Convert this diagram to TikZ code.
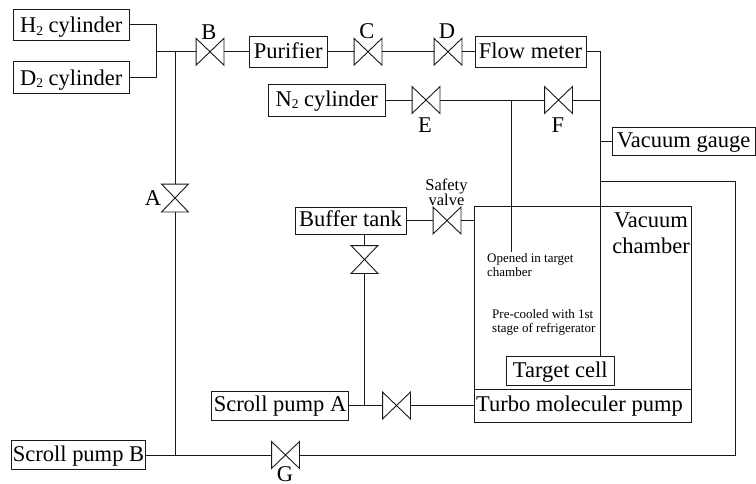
\documentclass[tikz,border=0pt]{standalone}
\usepackage{fontspec}
\setmainfont{Liberation Serif}
\newcommand{\lowtwo}{\raisebox{-2.5pt}{\fontsize{13.5}{13.5}\selectfont 2}}
\tikzset{
  wire/.style={line width=1pt,draw=black!90},
  box/.style={draw=black!90,line width=1pt,inner sep=0pt,text height=17pt,text depth=4.4pt,font=\fontsize{22.5}{24}\selectfont},
  gasbox/.style={box,text height=20pt,text depth=4pt},
  vnode/.style={inner sep=0pt,minimum width=27.5pt,minimum height=26.5pt},
  vshape/.style={line width=0.9pt,draw=black!90,line join=miter},
  lab/.style={inner sep=0pt,font=\fontsize{22.5}{24}\selectfont},
  mid/.style={inner sep=0pt,align=center,font=\fontsize{16.5}{16}\selectfont},
  small/.style={inner sep=0pt,align=left,anchor=west,font=\fontsize{13}{14}\selectfont},
}
\begin{document}
\begin{tikzpicture}[x=1pt,y=-1pt]
\useasboundingbox (0,0) rectangle (756,483);
% boxes
\node[gasbox,minimum width=116.5pt,minimum height=31.5pt] (H) at (71.25,24.75) {H\lowtwo{} cylinder};
\node[gasbox,minimum width=116.5pt,minimum height=31.5pt] (Dc) at (71.25,77.25) {D\lowtwo{} cylinder};
\node[box,minimum width=78.5pt,minimum height=30.5pt] (Pu) at (288.25,51.75) {Purifier};
\node[box,minimum width=111pt,minimum height=30.5pt] (FM) at (530.5,51.75) {Flow meter};
\node[box,minimum width=116.5pt,minimum height=32pt] (N) at (326.75,100) {N\lowtwo{} cylinder};
\node[box,minimum width=143.5pt,minimum height=27.5pt] (VG) at (683.75,141.25) {Vacuum gauge};
\node[box,minimum width=111pt,minimum height=27pt] (BT) at (350.5,220.5) {Buffer tank};
\node[box,minimum width=137pt,minimum height=29pt] (SA) at (280,405.5) {Scroll pump A};
\node[box,minimum width=134pt,minimum height=29pt] (SB) at (78.5,455) {Scroll pump B};
\node[box,minimum width=217pt,minimum height=183pt] (VC) at (582.5,297.5) {};
\node[box,minimum width=217pt,minimum height=33pt] (TP) at (582.5,405.5) {Turbo moleculer pump\kern6pt\mbox{}};
\node[box,minimum width=108.5pt,minimum height=28.5pt] (TC) at (560.25,370.75) {Target cell};
% valves
\foreach \n/\x/\y in {VB/210/51.75,VC1/368/51.75,VD/448/51.75,VE/426/100,VF/558.5/100,VS/447/220.5,VH/396.5/405.5,VG1/285.5/455}{
  \node[vnode] (\n) at (\x,\y) {};
  \draw[vshape] (\n.north west)--(\n.south east)--(\n.north east)--(\n.south west)--cycle;
}
\foreach \n/\x/\y in {VA/175/198,VT/364.5/259.5}{
  \node[vnode,minimum width=26.5pt,minimum height=27.5pt] (\n) at (\x,\y) {};
  \draw[vshape] (\n.north west)--(\n.south east)--(\n.south west)--(\n.north east)--cycle;
}
% junctions and free ends
\coordinate (j1) at (156,51.75);
\coordinate (j2) at (175,51.75);
\coordinate (j3) at (175,455);
\coordinate (j4) at (600,51.75);
\coordinate (j5) at (600,100);
\coordinate (j6) at (600,141.25);
\coordinate (j7) at (600,181);
\coordinate (j8) at (511.5,100);
\coordinate (j9) at (511.5,252);
\coordinate (j10) at (364.5,405.5);
\coordinate (j11) at (735,181);
\coordinate (j12) at (735,455);
\coordinate (j13) at (600,356.5);
% connectors
\draw[wire] (H.east) -| (j1);
\draw[wire] (Dc.east) -| (j1);
\draw[wire] (j1) -- (VB.west);
\draw[wire] (VB.east) -- (Pu.west);
\draw[wire] (Pu.east) -- (VC1.west);
\draw[wire] (VC1.east) -- (VD.west);
\draw[wire] (VD.east) -- (FM.west);
\draw[wire] (FM.east) -- (j4) -- (j13);
\draw[wire] (N.east) -- (VE.west);
\draw[wire] (VE.east) -- (VF.west);
\draw[wire] (VF.east) -- (j5);
\draw[wire] (j8) -- (j9);
\draw[wire] (j6) -- (VG.west);
\draw[wire] (j7) -- (j11) -- (j12) -- (VG1.east);
\draw[wire] (j2) -- (VA.north);
\draw[wire] (VA.south) -- (j3);
\draw[wire] (SB.east) -- (VG1.west);
\draw[wire] (BT.east) -- (VS.west);
\draw[wire] (VS.east) -- (VS.east -| VC.west);
\draw[wire] (BT.south -| VT.north) -- (VT.north);
\draw[wire] (VT.south) -- (j10);
\draw[wire] (SA.east) -- (VH.west);
\draw[wire] (VH.east) -- (VH.east -| TP.west);
% labels
\node[lab] (lB) at (209,32) {B};
\node[lab] (lC) at (367,31) {C};
\node[lab] (lD) at (447,31) {D};
\node[lab] (lE) at (425,125) {E};
\node[lab] (lF) at (558,125) {F};
\node[lab] (lA) at (153,198) {A};
\node[lab] (lG) at (285,474) {G};
\node[mid] (lS) at (446.5,192) {Safety\\[-1pt]valve};
\node[lab,align=center,font=\fontsize{22.5}{26}\selectfont] (lV) at (651,233) {Vacuum\\chamber};
\node[small] (lO) at (487,265) {Opened in target\\chamber};
\node[small] (lP) at (492,322) {Pre-cooled with 1st\\stage of refrigerator};
\end{tikzpicture}
\end{document}
